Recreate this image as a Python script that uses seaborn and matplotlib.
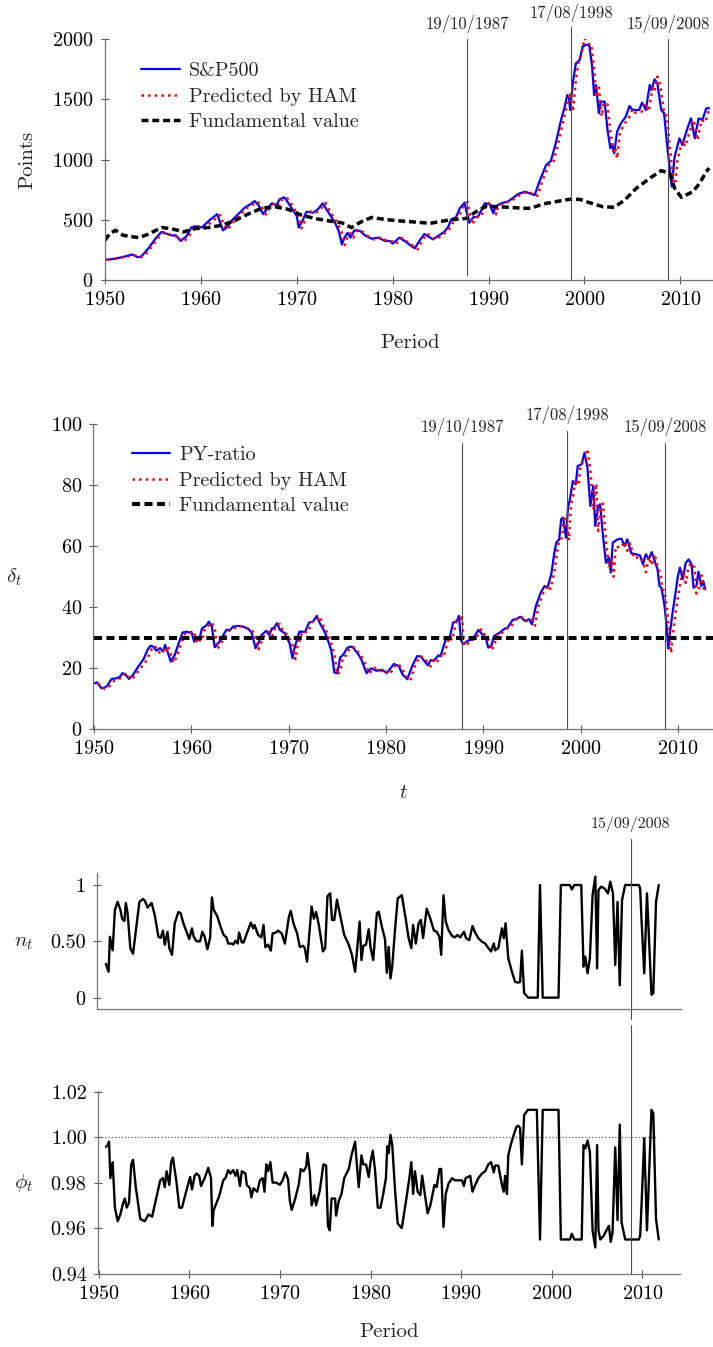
import numpy as np
import pandas as pd
import seaborn as sns
import matplotlib.pyplot as plt

# --- data (year, value) ---

sp500 = [
    (1950.0, 168), (1951.0, 176), (1952.1, 196), (1952.8, 212), (1953.4, 190), (1953.8, 196),
    (1954.5, 260), (1955.4, 357), (1955.9, 400), (1956.9, 371), (1957.4, 371), (1957.9, 324),
    (1958.5, 363), (1959.0, 436), (1959.4, 447), (1960.1, 436), (1960.9, 497), (1961.7, 547),
    (1962.3, 413), (1962.7, 436), (1963.2, 492), (1963.9, 547), (1964.6, 603), (1965.2, 631),
    (1965.6, 656), (1966.0, 623), (1966.5, 547), (1966.8, 581), (1967.4, 637), (1967.9, 623),
    (1968.2, 670), (1968.7, 687), (1969.1, 642), (1969.6, 581), (1970.0, 531), (1970.2, 436),
    (1970.6, 492), (1971.0, 567), (1971.7, 559), (1972.2, 587), (1972.7, 637), (1973.1, 587),
    (1973.6, 525), (1974.0, 475), (1974.4, 400), (1974.7, 296), (1975.0, 357), (1975.3, 391),
    (1975.6, 352), (1976.0, 413), (1976.6, 408), (1977.1, 371), (1977.8, 343), (1978.5, 352),
    (1979.2, 324), (1979.7, 324), (1980.0, 302), (1980.7, 352), (1981.4, 316), (1981.8, 291),
    (1982.3, 263), (1982.8, 327), (1983.3, 382), (1984.2, 338), (1984.9, 374), (1985.4, 402),
    (1985.8, 443), (1986.1, 504), (1986.6, 521), (1987.0, 596), (1987.5, 643), (1987.7, 568),
    (1988.0, 476), (1988.4, 521), (1988.9, 526), (1989.6, 637), (1990.1, 632), (1990.5, 554),
    (1990.7, 609), (1991.3, 637), (1992.0, 651), (1992.5, 679), (1993.1, 715), (1993.8, 734),
    (1994.3, 720), (1994.8, 706), (1995.3, 817), (1996.0, 956), (1996.5, 989), (1997.0, 1136),
    (1997.6, 1343), (1997.9, 1427), (1998.2, 1537), (1998.4, 1510), (1998.5, 1413), (1998.8, 1648),
    (1999.1, 1800), (1999.5, 1828), (1999.8, 1939), (2000.1, 1953), (2000.5, 1953), (2000.8, 1773),
    (2001.0, 1537), (2001.2, 1620), (2001.5, 1385), (2001.7, 1482), (2002.1, 1482), (2002.4, 1247),
    (2002.7, 1094), (2002.9, 1122), (2003.1, 1053), (2003.4, 1233), (2003.8, 1302), (2004.3, 1357),
    (2004.7, 1446), (2005.0, 1413), (2005.7, 1413), (2006.0, 1474), (2006.4, 1413), (2006.8, 1620),
    (2007.0, 1579), (2007.3, 1668), (2007.6, 1634), (2008.0, 1413), (2008.3, 1385), (2008.6, 1136),
    (2008.9, 914), (2009.1, 776), (2009.4, 1025), (2009.9, 1177), (2010.2, 1122), (2010.7, 1252),
    (2011.1, 1343), (2011.5, 1177), (2011.9, 1343), (2012.3, 1330), (2012.7, 1427), (2013.0, 1427),
]

sp500_ham = [
    (1950.3, 165), (1951.3, 180), (1952.4, 195), (1953.1, 205), (1953.7, 188), (1954.1, 200),
    (1954.8, 270), (1955.7, 365), (1956.2, 395), (1957.2, 365), (1957.7, 360), (1958.2, 315),
    (1958.8, 370), (1959.3, 440), (1959.7, 445), (1960.4, 430), (1961.2, 490), (1962.0, 540),
    (1962.6, 420), (1963.0, 440), (1963.5, 495), (1964.2, 550), (1964.9, 605), (1965.5, 630),
    (1965.9, 650), (1966.3, 615), (1966.8, 545), (1967.1, 590), (1967.7, 640), (1968.2, 620),
    (1968.5, 672), (1969.0, 680), (1969.4, 635), (1969.9, 570), (1970.3, 520), (1970.5, 430),
    (1970.9, 500), (1971.3, 570), (1972.0, 560), (1972.5, 590), (1973.0, 640), (1973.4, 580),
    (1973.9, 515), (1974.3, 465), (1974.7, 390), (1975.0, 290), (1975.3, 360), (1975.6, 390),
    (1975.9, 350), (1976.3, 415), (1976.9, 400), (1977.4, 365), (1978.1, 335), (1978.8, 355),
    (1979.5, 320), (1980.0, 320), (1980.3, 300), (1981.0, 350), (1981.7, 305), (1982.1, 285),
    (1982.6, 255), (1983.1, 330), (1983.6, 385), (1984.5, 335), (1985.2, 375), (1985.7, 405),
    (1986.1, 445), (1986.4, 505), (1986.9, 525), (1987.3, 600), (1987.8, 650), (1988.0, 560),
    (1988.3, 460), (1988.7, 520), (1989.2, 530), (1989.9, 640), (1990.4, 625), (1990.8, 545),
    (1991.0, 615), (1991.6, 640), (1992.3, 655), (1992.8, 680), (1993.4, 715), (1994.1, 735),
    (1994.6, 715), (1995.1, 700), (1995.6, 820), (1996.3, 960), (1996.8, 990), (1997.3, 1150),
    (1997.9, 1360), (1998.2, 1450), (1998.5, 1560), (1998.7, 1450), (1998.8, 1400), (1999.1, 1660),
    (1999.4, 1820), (1999.7, 1880), (2000.0, 2010), (2000.4, 1960), (2000.7, 1960), (2001.0, 1760),
    (2001.2, 1520), (2001.5, 1600), (2001.8, 1360), (2002.0, 1470), (2002.4, 1460), (2002.7, 1230),
    (2003.0, 1070), (2003.2, 1100), (2003.4, 1010), (2003.7, 1220), (2004.1, 1290), (2004.6, 1340),
    (2005.0, 1420), (2005.3, 1390), (2006.0, 1400), (2006.3, 1460), (2006.7, 1400), (2007.1, 1600),
    (2007.3, 1570), (2007.6, 1690), (2007.9, 1620), (2008.3, 1390), (2008.6, 1360), (2008.9, 1100),
    (2009.2, 880), (2009.4, 740), (2009.7, 1000), (2010.2, 1160), (2010.5, 1110), (2011.0, 1240),
    (2011.4, 1330), (2011.8, 1160), (2012.2, 1330), (2012.6, 1310), (2013.0, 1420),
]

sp500_fund = [
    (1950.0, 330), (1950.5, 385), (1951.1, 413), (1951.9, 371), (1953.5, 352), (1954.5, 380),
    (1955.9, 436), (1956.9, 427), (1958.2, 400), (1959.4, 427), (1960.8, 436), (1962.2, 455),
    (1963.5, 492), (1964.9, 547), (1966.3, 595), (1967.7, 609), (1969.1, 587), (1970.5, 539),
    (1971.9, 511), (1973.3, 492), (1974.7, 475), (1975.7, 436), (1976.7, 483), (1977.8, 520),
    (1979.2, 503), (1980.6, 492), (1982.1, 483), (1983.9, 471), (1985.9, 499), (1987.7, 512),
    (1988.7, 568), (1989.8, 615), (1990.8, 609), (1992.2, 604), (1993.6, 596), (1994.4, 596),
    (1995.7, 632), (1997.0, 651), (1998.4, 670), (1999.5, 670), (2000.5, 643), (2001.9, 609),
    (2003.1, 604), (2004.2, 665), (2005.4, 762), (2006.8, 845), (2008.0, 909), (2008.9, 886),
    (2009.4, 762), (2010.1, 687), (2011.3, 734), (2012.0, 803), (2012.7, 900), (2013.0, 930),
]

py_ratio = [
    (1950.1, 15.1), (1950.3, 15.4), (1950.8, 13.4), (1951.3, 14.0), (1951.8, 16.5), (1952.3, 16.7),
    (1952.7, 17.3), (1952.9, 18.4), (1953.2, 18.1), (1953.6, 16.5), (1954.0, 17.8), (1954.6, 20.8),
    (1955.1, 23.0), (1955.5, 26.0), (1955.8, 27.4), (1956.1, 27.1), (1956.4, 25.8), (1956.8, 26.6),
    (1957.1, 25.5), (1957.3, 27.7), (1957.5, 26.0), (1957.9, 22.2), (1958.3, 24.4), (1958.7, 28.2),
    (1959.1, 31.7), (1959.5, 32.0), (1959.9, 31.7), (1960.0, 32.0), (1960.3, 28.7), (1960.5, 29.3),
    (1960.8, 29.3), (1961.1, 33.1), (1961.6, 34.2), (1961.8, 35.3), (1962.1, 33.9), (1962.4, 26.9),
    (1962.8, 28.2), (1963.2, 30.4), (1963.6, 32.6), (1964.0, 32.6), (1964.3, 33.7), (1964.8, 33.9),
    (1965.3, 33.7), (1965.9, 32.8), (1966.2, 31.7), (1966.6, 26.6), (1966.9, 28.2), (1967.2, 30.9),
    (1967.7, 32.3), (1968.0, 30.9), (1968.3, 33.1), (1968.5, 33.2), (1968.8, 34.8), (1969.1, 32.6),
    (1969.6, 31.5), (1970.1, 28.2), (1970.4, 23.3), (1970.6, 26.6), (1971.1, 32.0), (1971.7, 32.0),
    (1972.1, 35.0), (1972.5, 35.3), (1972.9, 37.2), (1973.2, 34.8), (1973.6, 32.6), (1973.9, 30.4),
    (1974.2, 27.7), (1974.4, 25.5), (1974.7, 18.6), (1975.0, 18.4), (1975.3, 23.6), (1975.6, 24.4),
    (1976.0, 26.6), (1976.3, 27.1), (1976.6, 26.9), (1977.2, 24.4), (1977.5, 22.7), (1978.0, 18.4),
    (1978.5, 20.0), (1979.0, 19.2), (1979.6, 19.5), (1980.1, 18.4), (1980.8, 21.4), (1981.3, 20.8),
    (1981.7, 18.0), (1982.2, 16.4), (1982.7, 20.8), (1983.2, 24.0), (1983.6, 23.8), (1984.3, 21.0),
    (1984.6, 22.7), (1984.9, 22.4), (1985.4, 24.3), (1985.6, 23.9), (1986.2, 30.1), (1986.5, 29.5),
    (1986.9, 35.0), (1987.3, 35.5), (1987.5, 37.2), (1987.7, 29.5), (1987.9, 27.9), (1988.4, 29.0),
    (1988.9, 29.5), (1989.5, 32.6), (1989.9, 31.1), (1990.3, 29.5), (1990.5, 26.8), (1990.8, 27.1),
    (1991.1, 30.6), (1991.6, 31.5), (1992.2, 33.0), (1992.5, 33.3), (1993.0, 35.8), (1993.5, 36.3),
    (1993.8, 36.9), (1994.3, 35.5), (1994.7, 36.1), (1995.0, 34.4), (1995.4, 40.4), (1995.9, 44.8),
    (1996.3, 47.0), (1996.6, 46.4), (1997.0, 51.1), (1997.3, 57.9), (1997.5, 61.2), (1997.8, 62.3),
    (1998.0, 68.9), (1998.2, 69.4), (1998.5, 62.8), (1998.7, 72.7), (1998.9, 75.4), (1999.2, 81.4),
    (1999.5, 80.3), (1999.7, 86.3), (2000.1, 86.9), (2000.4, 90.7), (2000.7, 85.8), (2001.0, 73.2),
    (2001.3, 79.8), (2001.5, 66.7), (2001.8, 73.2), (2002.0, 73.8), (2002.3, 63.4), (2002.6, 54.6),
    (2002.9, 56.3), (2003.1, 51.4), (2003.3, 61.2), (2003.8, 62.3), (2004.2, 62.5), (2004.5, 60.1),
    (2004.8, 62.3), (2005.2, 57.7), (2005.7, 57.4), (2006.1, 57.0), (2006.4, 54.1), (2006.7, 57.4),
    (2007.0, 55.7), (2007.3, 58.1), (2007.6, 55.2), (2007.9, 52.5), (2008.1, 47.0), (2008.3, 46.4),
    (2008.6, 41.0), (2008.8, 35.0), (2009.0, 26.5), (2009.1, 29.5), (2009.4, 37.2), (2009.7, 43.7),
    (2010.0, 50.3), (2010.2, 53.0), (2010.5, 49.2), (2010.8, 54.6), (2011.1, 55.7), (2011.4, 54.1),
    (2011.6, 46.4), (2011.9, 47.0), (2012.1, 51.7), (2012.4, 47.0), (2012.6, 48.6), (2012.8, 45.9),
]

py_ham = [
    (1950.4, 15.0), (1950.7, 14.5), (1951.1, 13.2), (1951.6, 14.2), (1952.1, 16.0), (1952.6, 16.6),
    (1953.0, 17.0), (1953.2, 18.3), (1953.5, 17.6), (1953.9, 16.3), (1954.3, 18.0), (1954.9, 20.5),
    (1955.4, 22.5), (1955.8, 25.5), (1956.1, 27.3), (1956.4, 26.8), (1956.7, 25.2), (1957.1, 26.4),
    (1957.4, 25.0), (1957.6, 27.3), (1957.8, 25.5), (1958.2, 21.8), (1958.6, 24.6), (1959.0, 28.5),
    (1959.4, 31.6), (1959.8, 31.8), (1960.2, 31.4), (1960.3, 31.8), (1960.6, 28.2), (1960.8, 29.2),
    (1961.1, 29.0), (1961.4, 33.2), (1961.9, 34.3), (1962.1, 35.0), (1962.4, 33.2), (1962.7, 26.4),
    (1963.1, 28.5), (1963.5, 30.6), (1963.9, 32.4), (1964.3, 32.6), (1964.6, 33.6), (1965.1, 33.8),
    (1965.6, 33.4), (1966.2, 32.5), (1966.5, 31.2), (1966.9, 26.2), (1967.2, 28.6), (1967.5, 31.0),
    (1968.0, 32.0), (1968.3, 30.6), (1968.6, 33.3), (1969.1, 34.6), (1969.4, 32.2), (1969.9, 31.0),
    (1970.4, 27.5), (1970.7, 23.0), (1970.9, 27.0), (1971.4, 32.0), (1972.0, 31.8), (1972.4, 35.2),
    (1972.8, 35.5), (1973.2, 37.0), (1973.5, 34.2), (1973.9, 32.0), (1974.2, 29.8), (1974.5, 27.0),
    (1974.7, 24.5), (1975.0, 18.0), (1975.3, 19.0), (1975.6, 23.8), (1975.9, 24.2), (1976.3, 26.8),
    (1976.6, 27.0), (1976.9, 26.5), (1977.5, 23.8), (1977.8, 22.0), (1978.3, 18.3), (1978.8, 20.2),
    (1979.3, 19.0), (1979.9, 19.3), (1980.4, 18.1), (1981.1, 21.5), (1981.6, 20.4), (1982.0, 17.6),
    (1982.5, 16.0), (1983.0, 21.0), (1983.5, 24.0), (1983.9, 23.5), (1984.6, 20.6), (1984.9, 22.8),
    (1985.2, 22.0), (1985.7, 24.2), (1985.9, 23.6), (1986.5, 30.2), (1986.8, 29.2), (1987.2, 35.2),
    (1987.6, 35.4), (1987.8, 37.5), (1988.0, 28.5), (1988.2, 27.2), (1988.7, 29.2), (1989.2, 29.6),
    (1989.8, 32.8), (1990.2, 30.8), (1990.6, 29.0), (1990.8, 26.0), (1991.1, 27.2), (1991.4, 31.0),
    (1991.9, 31.6), (1992.5, 33.2), (1992.8, 33.3), (1993.3, 36.0), (1993.8, 36.4), (1994.1, 36.8),
    (1994.6, 35.2), (1995.0, 36.0), (1995.3, 34.0), (1995.7, 40.8), (1996.2, 45.0), (1996.6, 47.2),
    (1996.9, 46.0), (1997.3, 51.5), (1997.6, 58.5), (1997.8, 62.0), (1998.1, 62.8), (1998.3, 69.8),
    (1998.5, 69.5), (1998.8, 62.0), (1999.0, 73.5), (1999.2, 76.0), (1999.5, 82.0), (1999.8, 80.0),
    (2000.0, 87.0), (2000.4, 87.5), (2000.7, 92.0), (2001.0, 85.0), (2001.3, 72.0), (2001.6, 80.5),
    (2001.8, 65.0), (2002.1, 73.0), (2002.3, 74.0), (2002.6, 62.0), (2002.9, 53.0), (2003.2, 56.0),
    (2003.4, 50.0), (2003.6, 60.0), (2004.1, 59.5), (2004.5, 61.5), (2004.8, 58.5), (2005.1, 61.0),
    (2005.5, 56.0), (2006.0, 56.5), (2006.4, 55.5), (2006.7, 51.5), (2007.0, 56.5), (2007.3, 53.8),
    (2007.6, 57.5), (2007.9, 53.5), (2008.2, 51.0), (2008.4, 46.0), (2008.6, 45.5), (2008.9, 39.0),
    (2009.1, 31.5), (2009.3, 25.0), (2009.4, 29.0), (2009.7, 37.0), (2010.0, 43.5), (2010.3, 48.5),
    (2010.5, 52.0), (2010.8, 48.0), (2011.1, 53.5), (2011.4, 54.5), (2011.7, 53.0), (2011.9, 44.5),
    (2012.2, 46.5), (2012.4, 50.5), (2012.7, 45.5), (2013.0, 46.0),
]

py_fund = [(1950.0, 29.8), (2013.6, 29.8)]

n_share = [
    (1950.8, 0.30), (1951.1, 0.23), (1951.25, 0.54), (1951.55, 0.42), (1951.8, 0.78), (1952.1, 0.85),
    (1952.4, 0.78), (1952.6, 0.70), (1952.85, 0.68), (1953.0, 0.84), (1953.2, 0.75), (1953.5, 0.44),
    (1953.8, 0.39), (1954.1, 0.59), (1954.5, 0.85), (1954.9, 0.876), (1955.1, 0.86), (1955.4, 0.80),
    (1955.85, 0.84), (1956.2, 0.73), (1956.6, 0.54), (1956.85, 0.53), (1957.1, 0.595), (1957.3, 0.47),
    (1957.6, 0.585), (1957.8, 0.44), (1958.1, 0.38), (1958.4, 0.66), (1958.8, 0.76), (1959.05, 0.75),
    (1959.35, 0.66), (1959.7, 0.585), (1960.0, 0.52), (1960.3, 0.615), (1960.5, 0.54), (1960.8, 0.50),
    (1961.2, 0.50), (1961.45, 0.585), (1961.7, 0.54), (1962.0, 0.43), (1962.3, 0.53), (1962.5, 0.89),
    (1962.7, 0.78), (1963.1, 0.72), (1963.45, 0.63), (1963.8, 0.556), (1964.1, 0.535), (1964.3, 0.48),
    (1964.7, 0.48), (1964.85, 0.47), (1965.1, 0.505), (1965.35, 0.48), (1965.5, 0.577), (1965.8, 0.49),
    (1966.0, 0.49), (1966.35, 0.57), (1966.8, 0.666), (1967.05, 0.615), (1967.2, 0.645), (1967.6, 0.556),
    (1967.95, 0.535), (1968.2, 0.645), (1968.4, 0.447), (1968.7, 0.47), (1969.0, 0.417), (1969.2, 0.57),
    (1969.55, 0.577), (1969.8, 0.595), (1970.2, 0.57), (1970.55, 0.48), (1971.0, 0.72), (1971.2, 0.77),
    (1971.5, 0.66), (1971.9, 0.57), (1972.2, 0.45), (1972.55, 0.46), (1972.75, 0.44), (1973.0, 0.32),
    (1973.5, 0.81), (1973.75, 0.70), (1974.0, 0.76), (1974.3, 0.645), (1974.75, 0.41), (1975.0, 0.44),
    (1975.25, 0.90), (1975.55, 0.926), (1975.75, 0.69), (1976.0, 0.69), (1976.3, 0.87), (1976.6, 0.75),
    (1977.1, 0.556), (1977.6, 0.47), (1977.95, 0.38), (1978.3, 0.23), (1978.6, 0.50), (1978.8, 0.675),
    (1979.0, 0.334), (1979.2, 0.46), (1979.5, 0.47), (1979.8, 0.607), (1980.0, 0.447), (1980.3, 0.334),
    (1980.7, 0.75), (1980.9, 0.763), (1981.25, 0.63), (1981.6, 0.52), (1981.8, 0.22), (1982.0, 0.45),
    (1982.2, 0.17), (1982.4, 0.28), (1982.7, 0.60), (1983.0, 0.88), (1983.45, 0.91), (1983.9, 0.69),
    (1984.2, 0.53), (1984.5, 0.44), (1984.7, 0.645), (1985.0, 0.48), (1985.3, 0.66), (1985.55, 0.69),
    (1985.8, 0.53), (1986.2, 0.79), (1986.6, 0.70), (1987.0, 0.595), (1987.3, 0.585), (1987.6, 0.54),
    (1987.8, 0.38), (1988.05, 0.91), (1988.3, 0.675), (1988.6, 0.60), (1989.0, 0.547), (1989.3, 0.535),
    (1989.6, 0.556), (1989.9, 0.535), (1990.3, 0.585), (1990.55, 0.527), (1990.9, 0.51), (1991.25, 0.636),
    (1991.55, 0.577), (1991.9, 0.527), (1992.3, 0.497), (1992.65, 0.48), (1993.0, 0.44), (1993.3, 0.41),
    (1993.6, 0.48), (1993.75, 0.42), (1994.1, 0.44), (1994.5, 0.615), (1994.7, 0.527), (1994.9, 0.66),
    (1995.2, 0.35), (1995.6, 0.23), (1995.95, 0.14), (1996.3, 0.133), (1996.5, 0.14), (1996.7, 0.417),
    (1996.95, 0.04), (1997.4, 0.0), (1998.45, 0.0), (1998.7, 1.0), (1999.0, 0.0), (2000.74, 0.0),
    (2001.0, 1.0), (2002.0, 1.0), (2002.2, 0.96), (2002.5, 1.0), (2003.25, 1.0), (2003.5, 0.275),
    (2003.7, 0.364), (2003.95, 0.216), (2004.2, 0.35), (2004.5, 0.91), (2004.8, 1.074), (2005.0, 0.26),
    (2005.15, 0.955), (2005.45, 0.985), (2005.8, 0.97), (2006.2, 0.926), (2006.45, 1.03), (2006.75, 0.926),
    (2007.0, 0.29), (2007.25, 0.85), (2007.5, 0.11), (2007.75, 0.867), (2008.1, 1.0), (2009.6, 1.0),
    (2009.75, 0.97), (2009.9, 0.69), (2010.2, 0.216), (2010.5, 0.926), (2011.0, 0.024), (2011.2, 0.04),
    (2011.5, 0.85), (2011.8, 1.0),
]

phi = [
    (1950.82, 0.9957), (1951.0, 0.9965), (1951.15, 0.998), (1951.3, 0.982), (1951.55, 0.989),
    (1951.8, 0.969), (1952.1, 0.963), (1952.4, 0.966), (1952.7, 0.971), (1952.9, 0.973),
    (1953.1, 0.969), (1953.35, 0.971), (1953.6, 0.988), (1953.8, 0.990), (1954.1, 0.978),
    (1954.6, 0.964), (1955.1, 0.963), (1955.5, 0.966), (1955.9, 0.965), (1956.4, 0.974),
    (1956.8, 0.981), (1957.1, 0.982), (1957.3, 0.978), (1957.5, 0.985), (1957.8, 0.979),
    (1958.0, 0.989), (1958.2, 0.991), (1958.6, 0.980), (1958.9, 0.969), (1959.2, 0.969),
    (1959.65, 0.976), (1960.1, 0.9825), (1960.3, 0.977), (1960.6, 0.983), (1960.8, 0.984),
    (1961.1, 0.983), (1961.3, 0.9785), (1961.7, 0.982), (1962.1, 0.9865), (1962.4, 0.982),
    (1962.55, 0.961), (1962.7, 0.968), (1963.3, 0.974), (1963.75, 0.981), (1964.0, 0.982),
    (1964.3, 0.9855), (1964.55, 0.984), (1964.85, 0.9855), (1965.1, 0.983), (1965.3, 0.9855),
    (1965.6, 0.9785), (1965.8, 0.985), (1966.2, 0.984), (1966.35, 0.979), (1966.7, 0.9775),
    (1966.85, 0.9735), (1967.1, 0.9775), (1967.5, 0.976), (1967.8, 0.981), (1968.1, 0.982),
    (1968.3, 0.976), (1968.5, 0.988), (1968.7, 0.985), (1968.95, 0.989), (1969.2, 0.980),
    (1969.6, 0.980), (1970.0, 0.979), (1970.3, 0.981), (1970.6, 0.9845), (1970.9, 0.9815),
    (1971.1, 0.972), (1971.3, 0.968), (1971.7, 0.973), (1972.1, 0.9795), (1972.3, 0.986),
    (1972.6, 0.985), (1972.9, 0.987), (1973.05, 0.993), (1973.3, 0.9845), (1973.5, 0.970),
    (1973.8, 0.9745), (1974.0, 0.970), (1974.4, 0.9765), (1974.8, 0.988), (1975.1, 0.9875),
    (1975.3, 0.961), (1975.5, 0.959), (1975.7, 0.973), (1976.1, 0.973), (1976.2, 0.9655),
    (1976.5, 0.972), (1976.8, 0.975), (1977.1, 0.982), (1977.6, 0.986), (1977.9, 0.992),
    (1978.3, 0.998), (1978.5, 0.9875), (1978.7, 0.978), (1979.0, 0.992), (1979.2, 0.988),
    (1979.5, 0.988), (1979.8, 0.9825), (1980.0, 0.989), (1980.25, 0.994), (1980.5, 0.9855),
    (1980.8, 0.969), (1981.1, 0.969), (1981.4, 0.975), (1981.7, 0.982), (1981.85, 0.996),
    (1982.0, 0.993), (1982.2, 1.001), (1982.4, 0.9965), (1982.7, 0.977), (1983.0, 0.962),
    (1983.45, 0.960), (1983.9, 0.9715), (1984.3, 0.9825), (1984.5, 0.989), (1984.7, 0.975),
    (1984.9, 0.985), (1985.2, 0.976), (1985.5, 0.9745), (1985.7, 0.983), (1985.95, 0.976),
    (1986.3, 0.9665), (1986.6, 0.970), (1987.05, 0.979), (1987.3, 0.978), (1987.6, 0.986),
    (1987.8, 0.986), (1988.05, 0.9605), (1988.3, 0.975), (1988.6, 0.9795), (1989.0, 0.982),
    (1989.3, 0.981), (1989.9, 0.981), (1990.1, 0.981), (1990.3, 0.9785), (1990.5, 0.982),
    (1991.0, 0.983), (1991.25, 0.976), (1991.55, 0.979), (1991.9, 0.982), (1992.3, 0.984),
    (1992.65, 0.985), (1993.0, 0.988), (1993.3, 0.989), (1993.6, 0.9845), (1993.75, 0.9875),
    (1994.1, 0.9875), (1994.5, 0.979), (1994.7, 0.976), (1994.85, 0.983), (1995.05, 0.975),
    (1995.2, 0.992), (1995.5, 0.997), (1995.8, 1.001), (1996.1, 1.0045), (1996.3, 1.005),
    (1996.5, 1.004), (1996.7, 0.988), (1996.95, 1.0097), (1997.35, 1.012), (1998.35, 1.012),
    (1998.7, 0.955), (1999.0, 1.012), (2000.74, 1.012), (2001.0, 0.955), (2002.0, 0.955),
    (2002.2, 0.9575), (2002.5, 0.955), (2003.3, 0.955), (2003.5, 0.9965), (2003.7, 0.995),
    (2003.95, 0.9985), (2004.2, 0.9935), (2004.5, 0.959), (2004.8, 0.9515), (2005.0, 0.9965),
    (2005.15, 0.959), (2005.35, 0.955), (2005.7, 0.9565), (2006.1, 0.9595), (2006.3, 0.961),
    (2006.5, 0.954), (2006.7, 0.958), (2007.0, 0.9955), (2007.25, 0.9635), (2007.5, 1.0055),
    (2007.7, 0.9625), (2008.1, 0.955), (2009.6, 0.955), (2009.75, 0.9565), (2009.9, 0.970),
    (2010.2, 0.9995), (2010.5, 0.959), (2011.0, 1.012), (2011.2, 1.0105), (2011.5, 0.964),
    (2011.8, 0.955),
]

event_dates = [1987.80, 1998.63, 2008.70]
event_labels = ["19/10/1987", "17/08/1998", "15/09/2008"]


def frame(pairs):
    return pd.DataFrame(pairs, columns=["year", "value"])


sns.set_theme(style="ticks")
plt.rcParams["font.family"] = ["cmr10", "DejaVu Serif"]
plt.rcParams["mathtext.fontset"] = "cm"
plt.rcParams["axes.formatter.use_mathtext"] = True
plt.rcParams["axes.unicode_minus"] = False

W, H = 713, 1347
fig = plt.figure(figsize=(W / 100, H / 100), dpi=100)


def add_axes_px(left, top, right, bottom):
    return fig.add_axes([left / W, 1 - bottom / H, (right - left) / W, (bottom - top) / H])


def style(ax):
    sns.despine(ax=ax)
    for side in ("left", "bottom"):
        ax.spines[side].set_color("0.45")
        ax.spines[side].set_linewidth(0.9)
    ax.tick_params(direction="inout", length=6, width=0.8, color="0.35",
                   labelsize=14.5, pad=5, labelcolor="black")


def draw(ax, pairs, **kw):
    sns.lineplot(data=frame(pairs), x="year", y="value", ax=ax,
                 estimator=None, sort=False, **kw)


TXT = 12
LEG = dict(bbox_transform=fig.transFigure, frameon=False, fontsize=14.5,
           handletextpad=0.45, labelspacing=0.37, borderpad=0, borderaxespad=0,
           loc="upper left")

# ---------- panel 1: S&P500 ----------
ax1 = add_axes_px(104.5, 39.3, 713, 280)
draw(ax1, sp500, color="#0000ff", lw=1.6, label="S&P500")
draw(ax1, sp500_ham, color="#ff0000", lw=1.8, linestyle=":", label="Predicted by HAM")
draw(ax1, sp500_fund, color="black", lw=2.5, linestyle=(0, (2.0, 1.1)), label="Fundamental value")
ax1.set_xlim(1949.95, 2013.4)
ax1.set_ylim(0, 2000)
ax1.set_xticks(range(1950, 2011, 10))
ax1.set_yticks(range(0, 2001, 500))
style(ax1)
ax1.set_ylabel("Points", fontsize=15, va="center")
ax1.yaxis.set_label_coords(-0.127, 0.5)
ax1.set_xlabel("Period", fontsize=15, va="center")
ax1.xaxis.set_label_coords(0.502, -0.262)
tops1 = [2003, 2105, 2000]
bots1 = [40, 5, 5]
texty1 = [2128, 2219, 2128]
for d, lab, t, b, ty in zip(event_dates, event_labels, tops1, bots1, texty1):
    ax1.plot([d, d], [b, t], color="0.3", lw=0.8, clip_on=False)
    ax1.text(d, ty, lab, ha="center", va="center", fontsize=TXT, clip_on=False)
ax1.legend(bbox_to_anchor=(141 / W, 1 - 62 / H), handlelength=1.95, **LEG)

# ---------- panel 2: PY-ratio ----------
ax2 = add_axes_px(93, 424.3, 713, 729.3)
draw(ax2, py_ratio, color="#0000ff", lw=1.6, label="PY-ratio")
draw(ax2, py_ham, color="#ff0000", lw=1.8, linestyle=":", label="Predicted by HAM")
draw(ax2, py_fund, color="black", lw=2.9, linestyle=(0, (2.0, 1.1)), label="Fundamental value")
ax2.set_xlim(1949.9, 2013.6)
ax2.set_ylim(0, 100)
ax2.set_xticks(range(1950, 2011, 10))
ax2.set_yticks(range(0, 101, 20))
style(ax2)
ax2.set_ylabel(r"$\delta_t$", fontsize=15, rotation=0, va="center", ha="center")
ax2.yaxis.set_label_coords(-0.127, 0.5)
ax2.set_xlabel(r"$t$", fontsize=15, va="center")
ax2.xaxis.set_label_coords(0.5, -0.209)
tops2 = [93.8, 97.9, 93.8]
texty2 = [99.0, 103.0, 99.0]
for d, lab, t, ty in zip(event_dates, event_labels, tops2, texty2):
    ax2.plot([d, d], [0, t], color="0.3", lw=0.8, clip_on=False)
    ax2.text(d, ty, lab, ha="center", va="center", fontsize=TXT, clip_on=False)
ax2.legend(bbox_to_anchor=(132 / W, 1 - 446 / H), handlelength=1.9, **LEG)

# ---------- panel 3: n_t ----------
ax3 = add_axes_px(96.7, 872.7, 680.5, 1008.9)
draw(ax3, n_share, color="black", lw=1.7)
ax3.set_xlim(1949.79, 2014.2)
ax3.set_ylim(-0.1, 1.109)
ax3.set_yticks([0, 0.5, 1])
ax3.set_yticklabels(["0", "0.50", "1"])
style(ax3)
ax3.tick_params(axis="x", bottom=False, labelbottom=False)
ax3.set_xlabel("")
ax3.set_ylabel(r"$n_t$", fontsize=15, rotation=0, va="center", ha="center")
ax3.yaxis.set_label_coords(-0.1245, 0.487)
ax3.plot([event_dates[2]] * 2, [-0.19, 1.412], color="0.3", lw=0.8, clip_on=False)
ax3.text(event_dates[2], 1.536, event_labels[2], ha="center", va="center",
         fontsize=11.5, clip_on=False)

# ---------- panel 4: phi_t ----------
ax4 = add_axes_px(97.7, 1090.5, 680.5, 1273.6)
ax4.hlines(1.0, 1949.9, 2011.6, colors="0.35", linestyles=":", lw=0.9)
draw(ax4, phi, color="black", lw=1.7)
ax4.set_xlim(1949.9, 2014.2)
ax4.set_ylim(0.94, 1.0205)
ax4.set_xticks(range(1950, 2011, 10))
ax4.set_yticks([0.94, 0.96, 0.98, 1.00, 1.02])
ax4.set_yticklabels(["0.94", "0.96", "0.98", "1.00", "1.02"])
style(ax4)
ax4.set_ylabel(r"$\phi_t$", fontsize=15, rotation=0, va="center", ha="center")
ax4.yaxis.set_label_coords(-0.1265, 0.4926)
ax4.set_xlabel("Period", fontsize=15, va="center")
ax4.xaxis.set_label_coords(0.4998, -0.319)
ax4.plot([event_dates[2]] * 2, [0.94, 1.0493], color="0.3", lw=0.8, clip_on=False)

fig.savefig("out.png", dpi=100)
